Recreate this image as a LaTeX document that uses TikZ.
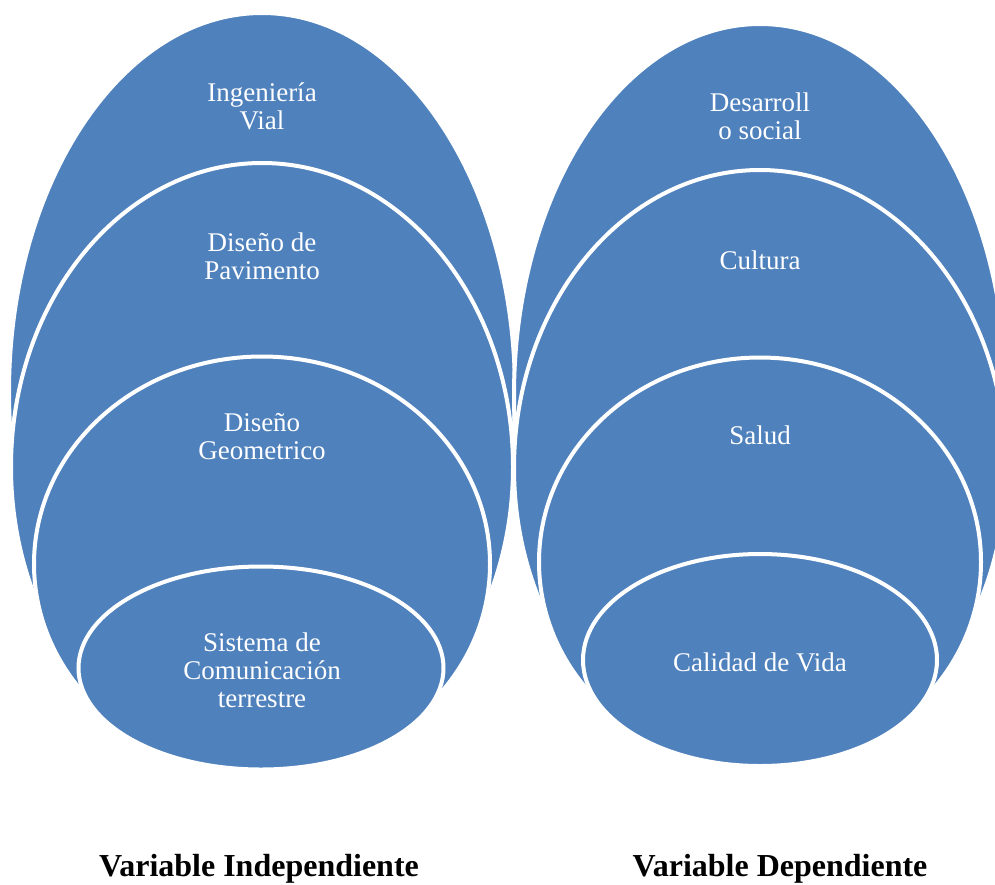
\documentclass[tikz,border=0pt]{standalone}
\usepackage{fontspec}
\setmainfont{Liberation Serif}
\usetikzlibrary{shapes.geometric, positioning}

\definecolor{venblue}{RGB}{79,129,189}

\tikzset{
  ring/.style={ellipse, fill=venblue, draw=white, line width=4pt, inner sep=0pt},
  tag/.style={text=white, align=center, inner sep=0pt, font=\fontsize{27}{28}\selectfont},
  vartitle/.style={font=\bfseries\fontsize{32}{36}\selectfont, inner sep=0pt, anchor=base}
}

\begin{document}
\begin{tikzpicture}[x=1pt, y=-1pt]
  \useasboundingbox (0,0) rectangle (995,884);
  \clip (0,0) rectangle (995,884);

  % independiente
  \node[ring, minimum width=506pt, minimum height=758pt] (l1) at (262,392) {};
  \node[ring, minimum width=502pt, minimum height=608pt] (l2) at (262,467) {};
  \node[ring, minimum width=456pt, minimum height=415pt] (l3) at (262,564) {};
  \node[ring, minimum width=365pt, minimum height=203pt] (l4) at (261,668) {};
  \node[tag] (tl1) at (262,106) {Ingeniería\\Vial};
  \node[tag] (tl2) at (262,256) {Diseño de\\Pavimento};
  \node[tag] (tl3) at (262,437) {Diseño\\Geometrico};
  \node[tag] (tl4) at (262,670) {Sistema de\\Comunicación\\terrestre};

  % dependiente
  \node[ring, minimum width=492pt, minimum height=742pt] (r1) at (760,395) {};
  \node[ring, minimum width=492pt, minimum height=596pt] (r2) at (760,468) {};
  \node[ring, minimum width=442pt, minimum height=409pt] (r3) at (760,562) {};
  \node[ring, minimum width=354pt, minimum height=212pt] (r4) at (760,660) {};
  \node[tag] (tr1) at (760,116) {Desarroll\\o social};
  \node[tag] (tr2) at (760,260) {Cultura};
  \node[tag] (tr3) at (760,435) {Salud};
  \node[tag] (tr4) at (760,662) {Calidad de Vida};

  \node[vartitle] (ind) at (259,876) {Variable Independiente};
  \node[vartitle] (dep) at (780,876) {Variable Dependiente};
\end{tikzpicture}
\end{document}
